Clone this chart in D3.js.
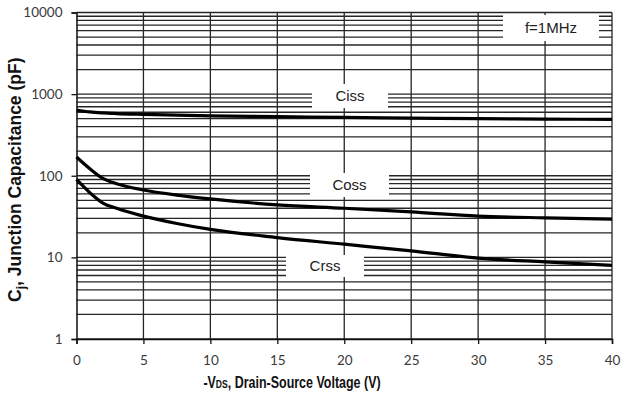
<!DOCTYPE html>
<html>
<head>
<meta charset="utf-8">
<script src="https://cdn.jsdelivr.net/npm/d3@7"></script>
<style>
  html, body { margin: 0; padding: 0; background: #fff; }
  svg { display: block; }
</style>
</head>
<body>
<svg id="chart" width="621" height="394"></svg>
<script>
// Drain-source voltage sample points (V)
const vds = [0, 1, 2, 3, 5, 7.5, 10, 15, 20, 25, 30, 35, 40];
// Junction capacitances (pF) at each voltage
const ciss = [640, 605, 588, 578, 565, 552, 542, 530, 518, 508, 500, 495, 490];
const coss = [170, 122, 92, 80, 67, 58, 52, 44, 40, 36, 32, 30.5, 29.5];
const crss = [90, 62, 46, 40, 32, 26, 22, 17.5, 14.5, 12, 9.8, 8.8, 8.0];

const xTicks = [0, 5, 10, 15, 20, 25, 30, 35, 40];
const yTicks = [1, 10, 100, 1000, 10000];
const yTickLabels = ["1", "10", "100", "1000", "10000"];

// Inline curve tags
const curveLabels = [
  { text: "Ciss", box: [312, 84, 388, 108] },
  { text: "Coss", box: [310, 173, 389, 197] },
  { text: "Crss", box: [286, 255, 364, 277] },
  { text: "f=1MHz", box: [503, 15, 599, 41] }
];

const svg = d3.select("#chart");
const plot = { left: 76.5, right: 612, top: 12.5, bottom: 339 };

const x = d3.scaleLinear().domain([0, 40]).range([plot.left, plot.right]);
const y = d3.scaleLog().domain([1, 10000]).range([plot.bottom, plot.top]);

const gridColor = "#262626";

// Horizontal grid: every 1..9 multiple of each decade
const hLines = [];
for (let e = 0; e < 4; e++) {
  for (let m = 1; m <= 9; m++) hLines.push(m * Math.pow(10, e));
}
hLines.push(10000);

svg.append("g")
  .selectAll("line")
  .data(hLines)
  .join("line")
  .attr("x1", plot.left).attr("x2", plot.right)
  .attr("y1", d => y(d)).attr("y2", d => y(d))
  .attr("stroke", gridColor)
  .attr("stroke-width", 1.3);

// Vertical grid at each 5 V step, plus right border
svg.append("g")
  .selectAll("line")
  .data(xTicks.slice(1))
  .join("line")
  .attr("x1", d => x(d)).attr("x2", d => x(d))
  .attr("y1", plot.top).attr("y2", plot.bottom)
  .attr("stroke", gridColor)
  .attr("stroke-width", 1.3);

// White tag backgrounds over the grid
svg.append("g")
  .selectAll("rect")
  .data(curveLabels)
  .join("rect")
  .attr("x", d => d.box[0]).attr("y", d => d.box[1])
  .attr("width", d => d.box[2] - d.box[0])
  .attr("height", d => d.box[3] - d.box[1])
  .attr("fill", "#fff");

// Axes
const tickFont = "Lato, 'Open Sans', sans-serif";

const yAxis = svg.append("g")
  .attr("transform", `translate(${plot.left},0)`)
  .call(d3.axisLeft(y).tickValues(yTicks)
    .tickFormat((d, i) => yTickLabels[i]).tickSize(5).tickPadding(9));
yAxis.select(".domain").attr("stroke", "#111").attr("stroke-width", 1.5);
yAxis.selectAll(".tick line").attr("stroke", "#111").attr("stroke-width", 1.3);
yAxis.selectAll("text")
  .attr("font-family", tickFont).attr("font-size", 13.5).attr("fill", "#3a3a3a");

const xAxis = svg.append("g")
  .attr("transform", `translate(0,${plot.bottom})`)
  .call(d3.axisBottom(x).tickValues(xTicks).tickSize(5).tickPadding(11));
xAxis.select(".domain").attr("stroke", "#111").attr("stroke-width", 1.5);
xAxis.selectAll(".tick line").attr("stroke", "#111").attr("stroke-width", 1.3);
xAxis.selectAll("text")
  .attr("font-family", tickFont).attr("font-size", 13.5).attr("fill", "#3a3a3a");

// Capacitance curves
const line = d3.line()
  .x((d, i) => x(vds[i]))
  .y(d => y(d))
  .curve(d3.curveMonotoneX);

svg.append("g")
  .selectAll("path")
  .data([ciss, coss, crss])
  .join("path")
  .attr("d", d => line(d))
  .attr("fill", "none")
  .attr("stroke", "#000")
  .attr("stroke-width", 3.2)
  .attr("stroke-linejoin", "round");

// Tag texts
svg.append("g")
  .selectAll("text")
  .data(curveLabels)
  .join("text")
  .attr("x", d => (d.box[0] + d.box[2]) / 2)
  .attr("y", d => (d.box[1] + d.box[3]) / 2)
  .attr("dy", "0.35em")
  .attr("text-anchor", "middle")
  .attr("font-family", "'Liberation Sans', Arial, sans-serif")
  .attr("font-size", 15)
  .attr("fill", "#222")
  .text(d => d.text);

// Axis titles; the horizontal one is drawn condensed
const xTitle = svg.append("text")
  .attr("transform", "translate(292,388) scale(0.78,1)")
  .attr("text-anchor", "middle")
  .attr("font-family", "'Liberation Sans', Arial, sans-serif")
  .attr("font-weight", "bold")
  .attr("font-size", 16)
  .attr("fill", "#111");
xTitle.append("tspan").text("-V");
xTitle.append("tspan").attr("font-size", 11).text("DS");
xTitle.append("tspan").text(", Drain-Source Voltage (V)");

const yTitle = svg.append("text")
  .attr("transform", `translate(21,${(plot.top + plot.bottom) / 2 + 4}) rotate(-90)`)
  .attr("text-anchor", "middle")
  .attr("font-family", "'Liberation Sans', Arial, sans-serif")
  .attr("font-weight", "bold")
  .attr("font-size", 17.5)
  .attr("fill", "#111");
yTitle.append("tspan").text("C");
yTitle.append("tspan").attr("font-size", 12).attr("dy", 4).text("j");
yTitle.append("tspan").attr("dy", -4).text(", Junction Capacitance (pF)");
</script>
</body>
</html>
